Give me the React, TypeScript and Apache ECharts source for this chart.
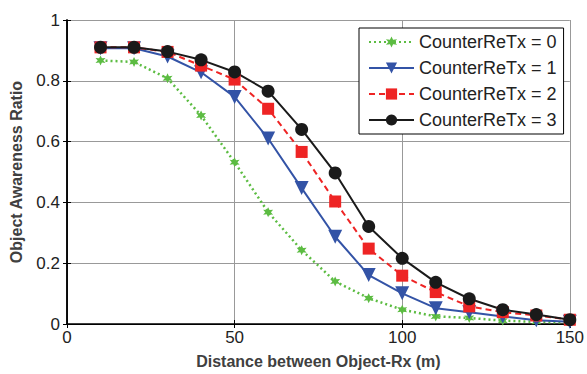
import React, { useEffect, useRef } from "react";
import * as echarts from "echarts";

const distances = [10, 20, 30, 40, 50, 60, 70, 80, 90, 100, 110, 120, 130, 140, 150];
const seriesNames = ["CounterReTx = 0", "CounterReTx = 1", "CounterReTx = 2", "CounterReTx = 3"];
const retx0 = [0.867, 0.862, 0.808, 0.686, 0.532, 0.368, 0.243, 0.14, 0.085, 0.047, 0.025, 0.02, 0.011, 0.007, 0.005];
const retx1 = [0.907, 0.907, 0.88, 0.828, 0.747, 0.61, 0.447, 0.287, 0.161, 0.101, 0.052, 0.039, 0.025, 0.012, 0.007];
const retx2 = [0.91, 0.91, 0.895, 0.85, 0.804, 0.708, 0.566, 0.403, 0.248, 0.159, 0.105, 0.058, 0.039, 0.028, 0.014];
const retx3 = [0.91, 0.91, 0.896, 0.869, 0.829, 0.766, 0.64, 0.497, 0.321, 0.216, 0.137, 0.083, 0.047, 0.031, 0.014];
const yTicks = [0, 0.2, 0.4, 0.6, 0.8, 1];

const starPath =
  "path://M50,0 L62,29 L93,25 L74,50 L93,75 L62,71 L50,100 L38,71 L7,75 L26,50 L7,25 L38,29 Z";

export default function App() {
  const ref = useRef<HTMLDivElement>(null);
  useEffect(() => {
    if (!ref.current) return;
    const chart = echarts.init(ref.current, undefined, { renderer: "svg" });
    const font = "Arial, 'Liberation Sans', sans-serif";
    const mk = (vals: number[]) => distances.map((d, i) => [d, vals[i]]);
    const tickStyle = { show: true, inside: true, length: 4, lineStyle: { color: "#000", width: 1 } };
    chart.setOption({
      animation: false,
      textStyle: { fontFamily: font },
      grid: { left: 66, top: 20, width: 506, height: 306, show: false },
      legend: {
        left: 359,
        top: 28,
        orient: "vertical",
        itemWidth: 45,
        itemHeight: 14,
        itemGap: 8,
        padding: [5, 7, 5, 9],
        borderColor: "#000",
        borderWidth: 1,
        backgroundColor: "#fff",
        textStyle: { fontSize: 18, lineHeight: 18, color: "#222", fontFamily: font, padding: [0, 0, 0, 0] },
        data: seriesNames,
      },
      xAxis: [
        {
          type: "value",
          min: 0,
          max: 150,
          interval: 50,
          name: "Distance between Object-Rx (m)",
          nameLocation: "middle",
          nameGap: 29,
          nameTextStyle: { fontSize: 16, fontWeight: "bold", color: "#404040", fontFamily: font },
          axisLine: { show: true, lineStyle: { color: "#000", width: 1.5 } },
          axisTick: tickStyle,
          axisLabel: { fontSize: 17, color: "#222", margin: 5 },
          splitLine: { show: true, lineStyle: { color: "#999", width: 1 } },
        },
        {
          type: "value",
          position: "top",
          min: 0,
          max: 150,
          interval: 50,
          axisLine: { show: true, lineStyle: { color: "#000", width: 1 } },
          axisTick: tickStyle,
          axisLabel: { show: false },
          splitLine: { show: false },
        },
      ],
      yAxis: [
        {
          type: "value",
          min: 0,
          max: 1,
          interval: 0.2,
          name: "Object Awareness Ratio",
          nameLocation: "middle",
          nameGap: 43,
          nameTextStyle: { fontSize: 16, fontWeight: "bold", color: "#404040", fontFamily: font },
          axisLine: { show: true, lineStyle: { color: "#000", width: 1.5 } },
          axisTick: tickStyle,
          axisLabel: {
            fontSize: 17,
            color: "#222",
            margin: 7,
            formatter: (v: number) => (yTicks.includes(Math.round(v * 10) / 10) ? String(Math.round(v * 10) / 10) : ""),
          },
          splitLine: { show: true, lineStyle: { color: "#999", width: 1 } },
        },
        {
          type: "value",
          position: "right",
          min: 0,
          max: 1,
          interval: 0.2,
          axisLine: { show: true, lineStyle: { color: "#000", width: 1.5 } },
          axisTick: tickStyle,
          axisLabel: { show: false },
          splitLine: { show: false },
        },
      ],
      series: [
        {
          name: seriesNames[0],
          type: "line",
          data: mk(retx0),
          symbol: starPath,
          symbolSize: 10,
          itemStyle: { color: "#5cbc42" },
          lineStyle: { color: "#5cbc42", width: 2.5, type: [2, 3] },
        },
        {
          name: seriesNames[1],
          type: "line",
          data: mk(retx1),
          symbol: "triangle",
          symbolRotate: 180,
          symbolSize: 14,
          itemStyle: { color: "#3353a6" },
          lineStyle: { color: "#3353a6", width: 2 },
        },
        {
          name: seriesNames[2],
          type: "line",
          data: mk(retx2),
          symbol: "rect",
          symbolSize: 12,
          itemStyle: { color: "#ee2424" },
          lineStyle: { color: "#ee2424", width: 2, type: [6, 4] },
        },
        {
          name: seriesNames[3],
          type: "line",
          data: mk(retx3),
          symbol: "circle",
          symbolSize: 13,
          itemStyle: { color: "#1a1a1a" },
          lineStyle: { color: "#1a1a1a", width: 2 },
        },
      ],
    });
    return () => chart.dispose();
  }, []);
  return <div ref={ref} style={{ width: 587, height: 374, position: "absolute", left: 0, top: 0, background: "#fff" }} />;
}
